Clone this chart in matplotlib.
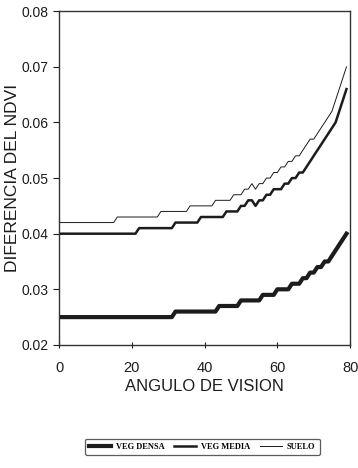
import matplotlib
matplotlib.use("Agg")
import matplotlib.pyplot as plt
import numpy as np

# angulo de vision (grados)
angulo = np.arange(0, 80)

veg_densa = ([0.025] * 32 + [0.026] * 12 + [0.027] * 6 + [0.028] * 6 + [0.029] * 4
             + [0.030] * 4 + [0.031] * 3 + [0.032] * 2 + [0.033] * 2 + [0.034] * 2
             + [0.035] * 2 + [0.036, 0.037, 0.038, 0.039, 0.040])

veg_media = ([0.040] * 22 + [0.041] * 10 + [0.042] * 7 + [0.043] * 7 + [0.044] * 4
             + [0.045] * 2 + [0.046] * 2 + [0.045] + [0.046] * 2 + [0.047] * 2
             + [0.048] * 3 + [0.049] * 2 + [0.050] * 2 + [0.051] * 2
             + [0.052, 0.053, 0.054, 0.055, 0.056, 0.057, 0.058, 0.059, 0.060, 0.062, 0.064, 0.066])

suelo = ([0.042] * 16 + [0.043] * 12 + [0.044] * 8 + [0.045] * 7 + [0.046] * 5
         + [0.047] * 3 + [0.048] * 2 + [0.049] + [0.048] + [0.049] * 2 + [0.050] * 2
         + [0.051] * 2 + [0.052] * 2 + [0.053] * 2 + [0.054] * 2
         + [0.055, 0.056, 0.057, 0.057, 0.058, 0.059, 0.060, 0.061, 0.062, 0.064, 0.066, 0.068, 0.070])

labels = ["VEG DENSA", "VEG MEDIA", "SUELO"]
xticks = [0, 20, 40, 60, 80]
yticks = [0.02, 0.03, 0.04, 0.05, 0.06, 0.07, 0.08]

plt.rcParams['font.family'] = ['Liberation Sans', 'DejaVu Sans']

fig = plt.figure(figsize=(3.58, 4.68), dpi=100)
ax = fig.add_axes([0.165, 0.263, 0.813, 0.713])

col = '#1c1c1c'
ax.plot(angulo, veg_densa, color=col, lw=3.0, label=labels[0])
ax.plot(angulo, veg_media, color=col, lw=1.8, label=labels[1])
ax.plot(angulo, suelo, color=col, lw=0.7, label=labels[2])

ax.set_xlim(0, 80)
ax.set_ylim(0.02, 0.08)
ax.set_xticks(xticks)
ax.set_yticks(yticks)
ax.set_yticklabels(["%.2f" % v for v in yticks])
ax.tick_params(axis='y', direction='out', length=4, labelsize=10, colors=col)
ax.tick_params(axis='x', direction='inout', length=5, labelsize=10.5, colors=col, pad=9)
for s in ax.spines.values():
    s.set_color('#333333')
    s.set_linewidth(1.0)

ax.set_xlabel("ANGULO DE VISION", fontsize=12, color=col, labelpad=3)
ax.set_ylabel("DIFERENCIA DEL NDVI", fontsize=12.5, color=col, labelpad=1)

leg = fig.legend(loc='center', bbox_to_anchor=(0.565, 0.045), ncol=3, frameon=True,
                 fancybox=True, prop={'family': 'Liberation Serif', 'weight': 'bold', 'size': 6},
                 handlelength=2.6, columnspacing=1.2, handletextpad=0.6, borderpad=0.5)
leg.get_frame().set_edgecolor('#333333')
leg.get_frame().set_linewidth(0.9)

fig.savefig("out.png", dpi=100)
